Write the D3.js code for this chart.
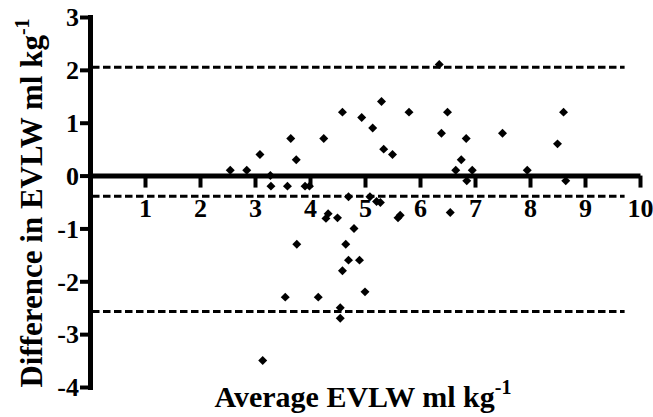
<!DOCTYPE html>
<html>
<head>
<meta charset="utf-8">
<script src="https://cdn.jsdelivr.net/npm/d3@7"></script>
<style>
  html, body { margin: 0; padding: 0; background: #fff; }
  svg { display: block; }
  text { font-family: "Liberation Serif", "Times New Roman", serif; font-weight: bold; fill: #000; }
</style>
</head>
<body>
<svg id="chart" width="653" height="417"></svg>
<script>
// ---- data ----
const avgEVLW = [2.55, 2.85, 3.09, 3.28, 3.29, 3.59, 3.65, 3.75, 3.91, 3.99,
  4.25, 4.59, 4.70, 4.94, 5.14, 5.30, 5.34, 5.50, 5.80, 6.35,
  6.50, 6.39, 6.84, 6.75, 6.65, 6.95, 6.85, 5.09, 5.21, 5.28,
  7.50, 7.95, 8.61, 8.50, 8.65, 4.33, 4.29, 4.50, 4.80, 3.76,
  4.65, 4.70, 4.90, 4.59, 3.55, 4.15, 5.00, 4.55, 4.55, 3.14,
  5.64, 5.60, 6.55];
const diffEVLW = [0.10, 0.10, 0.40, 0.00, -0.20, -0.20, 0.70, 0.30, -0.20, -0.20,
  0.70, 1.20, -0.40, 1.10, 0.90, 1.40, 0.50, 0.40, 1.20, 2.10,
  1.20, 0.80, 0.70, 0.30, 0.10, 0.10, -0.10, -0.40, -0.49, -0.51,
  0.80, 0.10, 1.20, 0.60, -0.10, -0.72, -0.81, -0.80, -1.00, -1.30,
  -1.30, -1.60, -1.60, -1.80, -2.30, -2.30, -2.20, -2.50, -2.70, -3.50,
  -0.75, -0.80, -0.70];
const limitLines = [2.05, -0.39, -2.57];   // upper LoA, bias, lower LoA
const limitExtent = [0, 9.72];
const xTicks = [1, 2, 3, 4, 5, 6, 7, 8, 9, 10];
const yTicks = [-4, -3, -2, -1, 0, 1, 2, 3];
const xTitle = "Average EVLW ml kg";
const yTitle = "Difference in EVLW ml kg";
const unitSup = "-1";

// ---- scales ----
const svg = d3.select("#chart");
const x = d3.scaleLinear().domain([0, 10]).range([90, 640]);
const y = d3.scaleLinear().domain([-4, 3]).range([387, 17]);
const fmt = d => String(d);   // plain hyphen-minus as in the original

// ---- points ----
const pts = avgEVLW.map((v, i) => ({ x: v, y: diffEVLW[i] }));
const diamond = d3.symbol().type(d3.symbolSquare).size(40);
svg.append("g").selectAll("path").data(pts).join("path")
  .attr("d", diamond)
  .attr("transform", d => `translate(${x(d.x)},${y(d.y)}) rotate(45)`)
  .attr("fill", "#000");

// ---- limit lines ----
svg.append("g").selectAll("line").data(limitLines).join("line")
  .attr("x1", x(limitExtent[0]) + 2)
  .attr("x2", x(limitExtent[1]))
  .attr("y1", d => y(d)).attr("y2", d => y(d))
  .attr("stroke", "#000").attr("stroke-width", 3)
  .attr("stroke-dasharray", "7.5,3.5");

// ---- axes ----
const yAxis = svg.append("g").attr("transform", `translate(${x(0)},0)`)
  .call(d3.axisLeft(y).tickValues(yTicks).tickFormat(fmt).tickSize(10).tickSizeOuter(0).tickPadding(1));
yAxis.select(".domain").attr("stroke-width", 5).attr("stroke-linecap", "square");
yAxis.selectAll(".tick line").attr("stroke-width", 4);
yAxis.selectAll(".tick text").style("font-size", "26px").attr("dy", "0.34em");

const xAxis = svg.append("g").attr("transform", `translate(0,${y(0)})`)
  .call(d3.axisBottom(x).tickValues(xTicks).tickFormat(fmt).tickSize(12).tickSizeOuter(0));
xAxis.select(".domain").attr("stroke-width", 5);
xAxis.selectAll(".tick line").attr("stroke-width", 4);
xAxis.selectAll(".tick text").style("font-size", "26px").attr("y", 41).attr("dy", null);

// ---- titles ----
const xt = svg.append("text")
  .attr("x", 363).attr("y", 407)
  .attr("text-anchor", "middle")
  .style("font-size", "30px");
xt.append("tspan").text(xTitle);
xt.append("tspan").attr("dy", -13).style("font-size", "20px").text(unitSup);

const yt = svg.append("text")
  .attr("transform", "translate(42,203) rotate(-90)")
  .attr("text-anchor", "middle")
  .style("font-size", "31px");
yt.append("tspan").text(yTitle);
yt.append("tspan").attr("dy", -13).style("font-size", "20px").text(unitSup);
</script>
</body>
</html>
